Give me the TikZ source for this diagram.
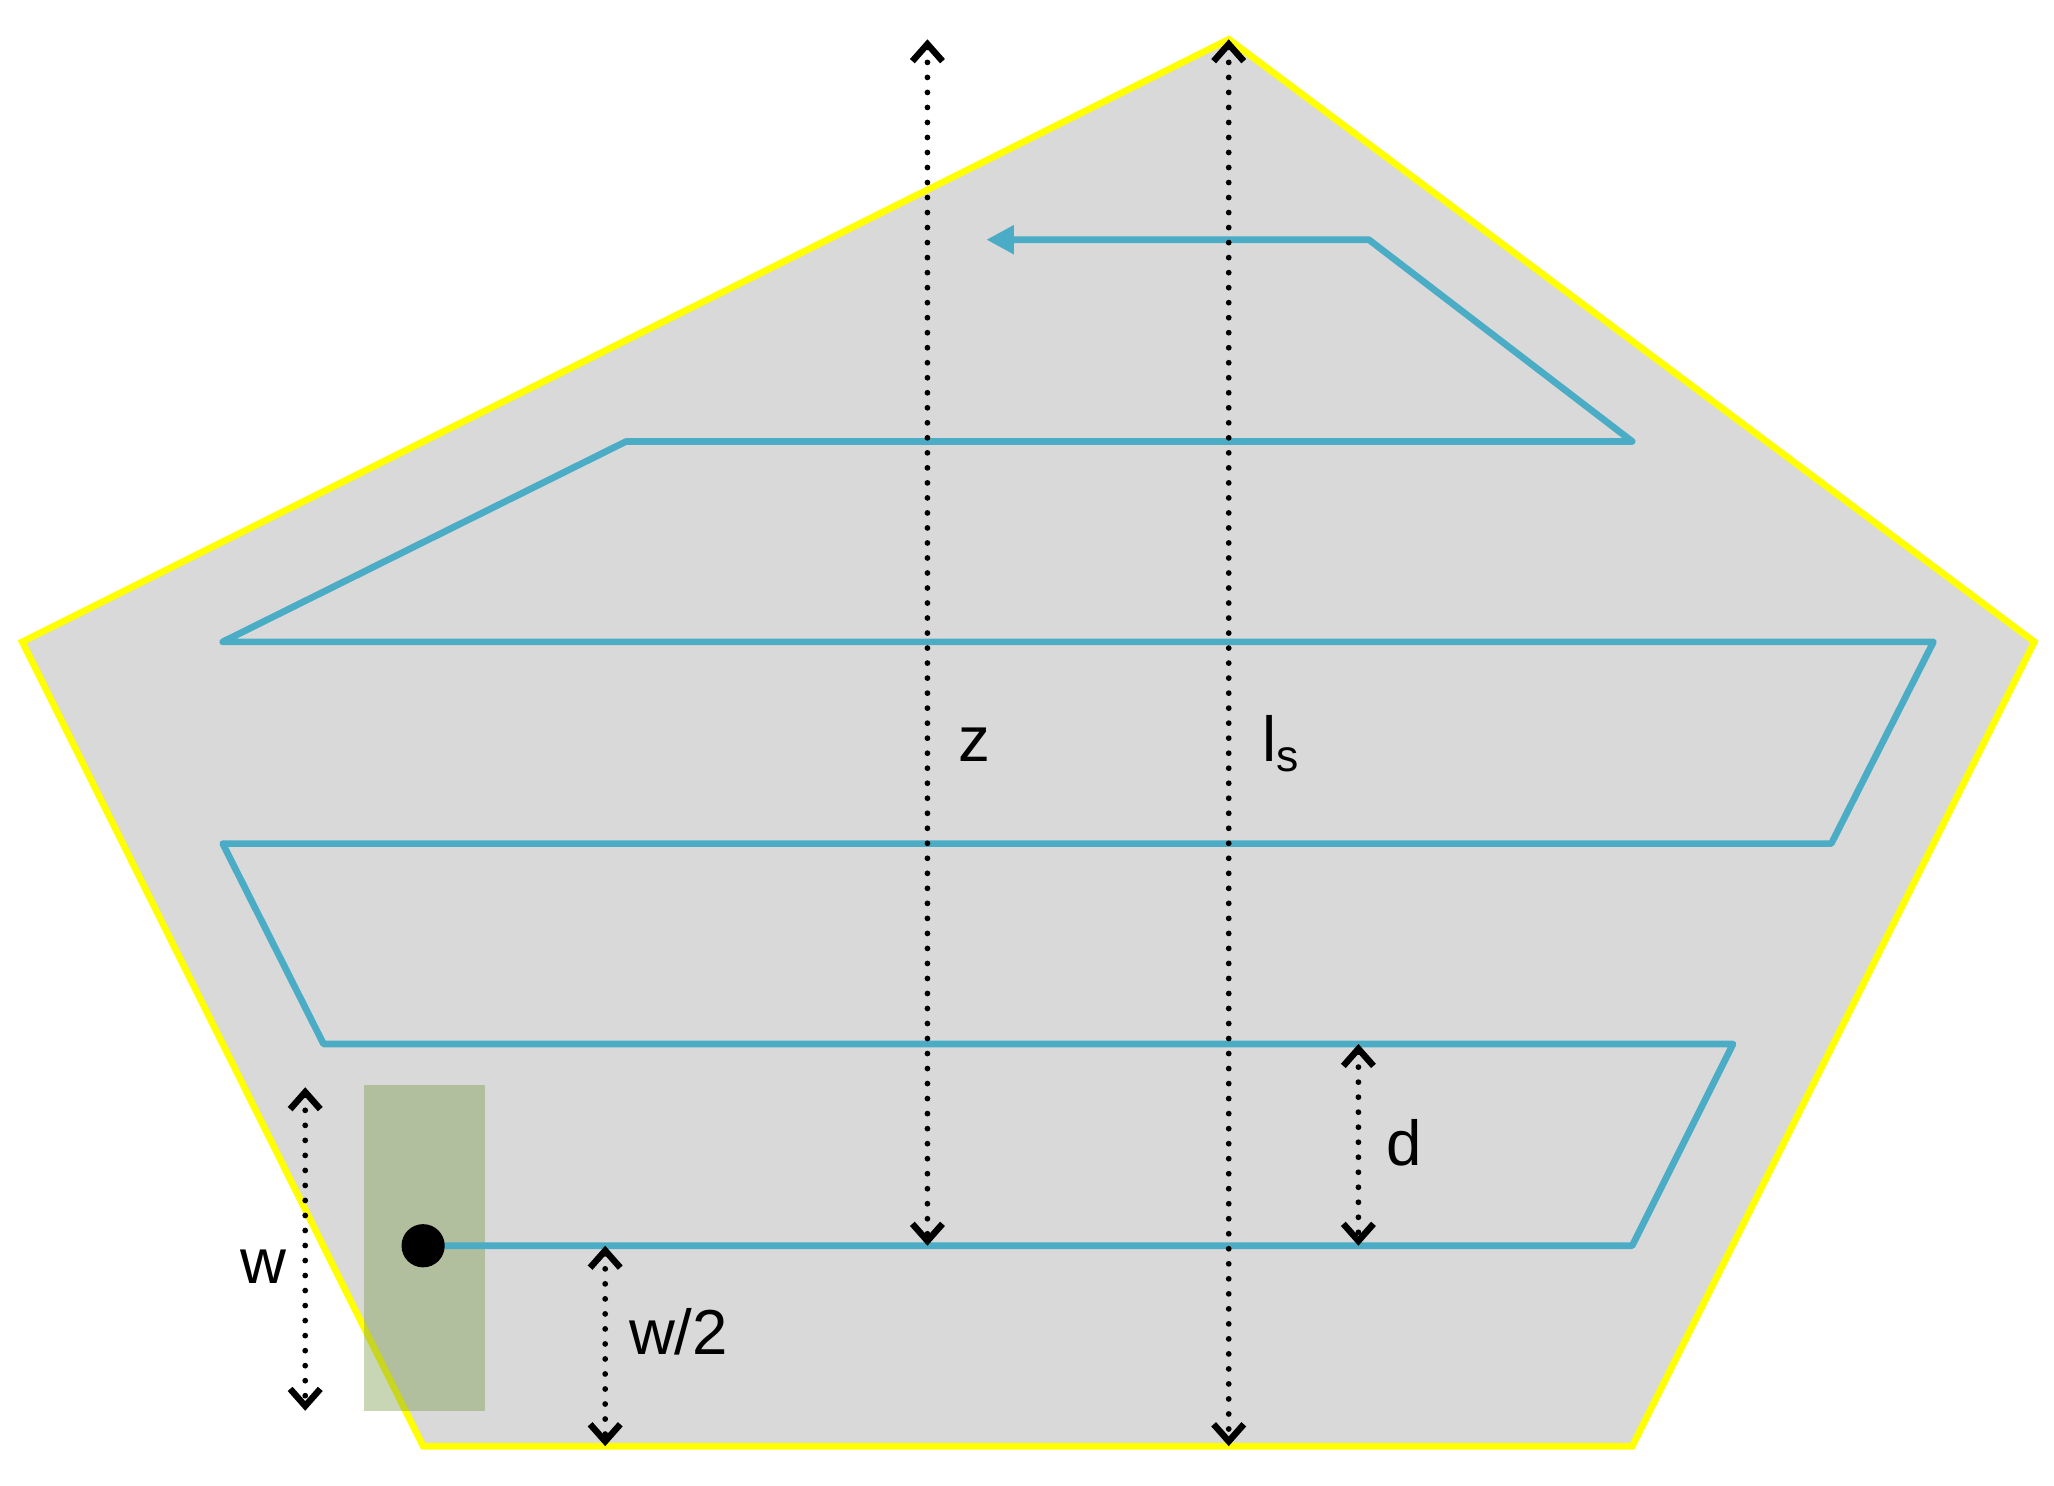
\documentclass[tikz,border=0pt]{standalone}
\usepackage{fontspec}
\setmainfont{Liberation Sans}
\usetikzlibrary{arrows.meta}
\definecolor{plate}{HTML}{D9D9D9}
\definecolor{rim}{HTML}{FFFF00}
\definecolor{trace}{HTML}{4BACC6}
\definecolor{pad}{HTML}{7E9D4F}
\tikzset{
  dimarrow/.style={black, line width=1.25pt, dash pattern=on 0pt off 3.26pt, line cap=round,
    {Straight Barb[length=1.3mm,width=2.3mm,line width=1.4pt]}-{Straight Barb[length=1.3mm,width=2.3mm,line width=1.4pt]}},
  tracepath/.style={trace, line width=1.45pt, line join=round, -{Triangle[length=2.1mm,width=2.1mm]}},
  lbl/.style={font=\fontsize{13.8}{16}\selectfont, inner sep=0pt, anchor=base}
}
\begin{document}
\begin{tikzpicture}[x=0.01cm,y=-0.01cm]
\useasboundingbox (0,0) rectangle (1568,1134);
% pentagon
\coordinate (pt) at (938,30);
\coordinate (pr) at (1553,490);
\coordinate (pbr) at (1246,1104);
\coordinate (pbl) at (323,1104);
\coordinate (pl) at (17,490);
\draw[fill=plate, draw=rim, line width=1.45pt] (pt) -- (pr) -- (pbr) -- (pbl) -- (pl) -- cycle;
% green pad
\fill[pad, fill opacity=0.42] (278,828) rectangle (370,1077);
% trace
\coordinate (start) at (323,951);
\draw[tracepath] (start) -- (1246,951) -- (1323,797) -- (247,797) -- (170,644) -- (1398,644)
  -- (1476,490) -- (170,490) -- (478,337) -- (1246,337) -- (1045,183) -- (753,183);
\fill[black] (start) circle[radius=16.5];
% dimension arrows
\coordinate (zt) at (708,30);  \coordinate (zb) at (708,951);
\coordinate (lt) at (938,30);  \coordinate (lb) at (938,1104);
\coordinate (dt) at (1037,797); \coordinate (db) at (1037,951);
\coordinate (wt) at (233,830); \coordinate (wb) at (233,1077);
\coordinate (ht) at (462,951); \coordinate (hb) at (462,1104);
\draw[dimarrow] (zt) -- (zb);
\draw[dimarrow] (lt) -- (lb);
\draw[dimarrow] (dt) -- (db);
\draw[dimarrow] (wt) -- (wb);
\draw[dimarrow] (ht) -- (hb);
% labels
\node[lbl] (zl) at (744,581) {z};
\node[lbl, anchor=base west] (ll) at (963,581) {l\textsubscript{s}};
\node[lbl] (dl) at (1072,890) {d};
\node[lbl] (wl) at (201,980) {w};
\node[lbl] (hl) at (518,1034) {w/2};
\end{tikzpicture}
\end{document}
